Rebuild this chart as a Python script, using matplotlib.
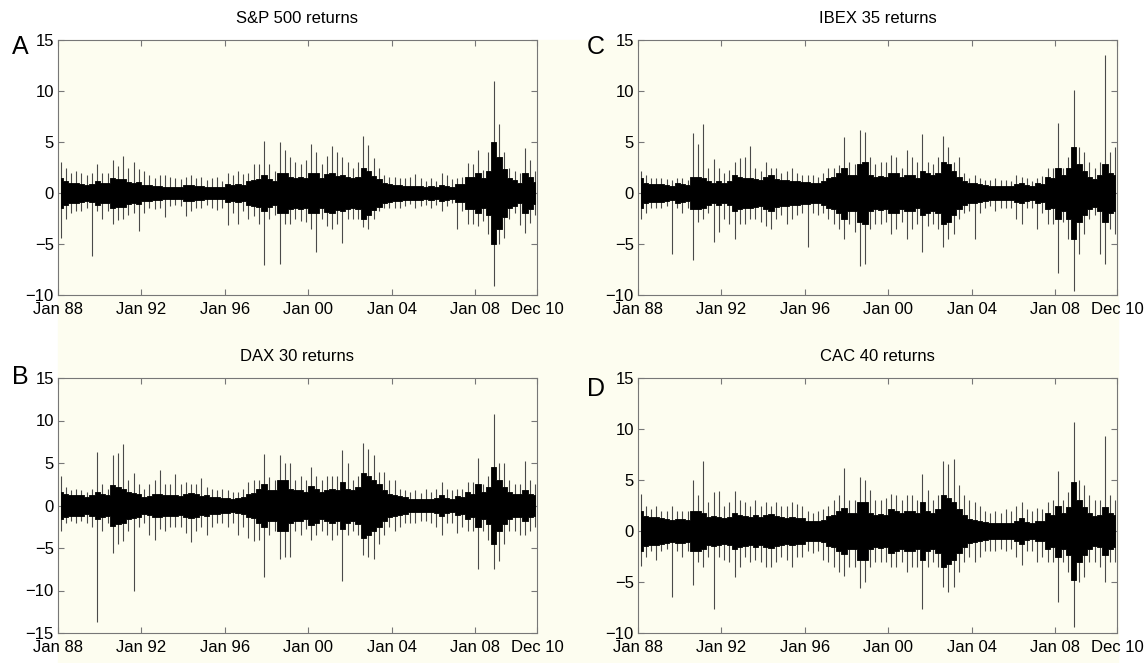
import numpy as np
import matplotlib.pyplot as plt
from matplotlib.patches import Rectangle

plt.rcParams['font.family'] = ['Liberation Sans', 'DejaVu Sans']

# Daily returns, summarised per quarter (Jan 88 .. Dec 10).
# core = half-width of the dense black band, hi / lo = largest spike up / down.
# One row per year, four quarters each.

sp500_core = [1.5, 1.2, 1.0, 1.0,  0.9, 0.8, 0.9, 1.2,  1.0, 1.0, 1.5, 1.4,  1.4, 1.1, 1.0, 1.1,
              0.8, 0.8, 0.7, 0.7,  0.6, 0.6, 0.6, 0.6,  0.8, 0.8, 0.7, 0.7,  0.6, 0.6, 0.6, 0.6,
              0.9, 0.8, 0.9, 0.8,  1.2, 1.3, 1.4, 1.8,  1.4, 1.2, 2.0, 2.0,  1.6, 1.5, 1.6, 1.5,
              2.0, 2.0, 1.5, 1.9,  2.0, 1.7, 1.8, 1.6,  1.5, 1.6, 2.5, 2.2,  1.7, 1.4, 1.0, 0.9,
              0.8, 0.8, 0.7, 0.7,  0.7, 0.7, 0.6, 0.7,  0.6, 0.8, 0.7, 0.6,  0.9, 0.9, 1.6, 1.6,
              2.0, 1.5, 2.2, 5.0,  3.5, 2.4, 1.5, 1.3,  1.0, 2.0, 1.6, 1.1]
sp500_hi = [3.0, 2.5, 2.0, 2.2,  2.0, 1.8, 2.0, 2.8,  2.0, 2.0, 3.2, 2.6,  3.6, 2.5, 3.0, 2.4,
            2.2, 1.8, 1.5, 1.8,  1.8, 1.6, 1.5, 1.4,  1.6, 1.8, 1.5, 1.6,  1.3, 1.5, 1.6, 1.2,
            2.0, 1.8, 2.2, 1.9,  2.0, 2.8, 2.8, 5.1,  2.8, 2.2, 5.0, 4.2,  3.5, 3.0, 2.8, 3.2,
            4.8, 4.0, 2.8, 3.6,  4.6, 4.0, 3.5, 3.0,  2.5, 3.0, 5.6, 4.7,  3.4, 2.5, 1.8, 1.6,
            1.6, 1.5, 1.5, 1.6,  1.9, 1.5, 1.2, 1.5,  1.2, 2.0, 1.8, 1.4,  1.5, 1.6, 2.9, 2.8,
            4.2, 2.3, 4.0, 11.0, 6.8, 4.0, 2.5, 2.2,  2.0, 4.4, 3.2, 2.2]
sp500_lo = [-4.4, -2.5, -2.0, -1.8,  -1.8, -1.5, -6.2, -1.8,  -2.5, -1.8, -3.0, -2.6,  -2.5, -2.2, -2.0, -3.7,
            -2.0, -1.5, -1.6, -1.5,  -2.4, -1.3, -1.2, -1.3,  -2.3, -1.8, -1.5, -1.5,  -1.2, -1.5, -1.7, -1.5,
            -3.1, -2.0, -3.0, -1.8,  -2.5, -2.3, -3.0, -7.1,  -2.5, -2.2, -7.0, -3.0,  -3.0, -2.5, -2.7, -2.8,
            -3.5, -5.8, -2.5, -3.2,  -3.5, -3.0, -4.9, -2.5,  -2.5, -2.5, -3.3, -3.5,  -2.5, -1.8, -1.5, -1.5,
            -1.5, -1.5, -1.3, -1.1,  -1.5, -1.3, -1.2, -1.5,  -1.2, -1.8, -1.3, -1.0,  -3.5, -1.8, -3.0, -3.0,
            -3.2, -2.7, -4.0, -9.1,  -5.0, -4.4, -2.5, -2.0,  -3.1, -3.9, -2.9, -2.2]

ibex_core = [1.5, 1.0, 0.9, 0.9,  0.9, 0.8, 0.7, 1.0,  0.9, 0.8, 1.6, 1.6,  1.5, 1.2, 1.0, 1.2,
             1.0, 1.2, 1.8, 1.6,  1.5, 1.5, 1.4, 1.3,  1.6, 1.8, 1.4, 1.3,  1.3, 1.2, 1.2, 1.1,
             1.1, 1.0, 1.0, 1.2,  1.5, 1.6, 2.0, 2.5,  1.8, 1.8, 2.8, 3.0,  1.8, 1.6, 1.7, 1.6,
             2.0, 2.0, 1.6, 1.8,  1.8, 1.5, 2.2, 2.0,  1.8, 2.0, 3.0, 2.8,  2.2, 1.6, 1.2, 1.0,
             1.0, 0.9, 0.8, 0.7,  0.7, 0.7, 0.7, 0.7,  0.9, 1.0, 0.8, 0.7,  1.0, 0.9, 1.6, 1.5,
             2.5, 1.8, 2.5, 4.5,  2.8, 2.2, 1.6, 1.4,  1.8, 2.8, 2.0, 1.8]
ibex_hi = [2.2, 1.8, 1.5, 1.5,  1.5, 1.4, 1.3, 1.5,  1.5, 1.3, 5.9, 4.8,  6.8, 2.5, 3.3, 2.5,
           2.0, 2.3, 3.0, 3.4,  3.5, 4.6, 2.5, 2.2,  3.0, 2.5, 2.5, 2.0,  2.2, 2.5, 2.0, 1.8,
           1.8, 1.8, 1.6, 2.0,  2.5, 2.5, 2.7, 5.5,  3.0, 2.8, 6.2, 6.0,  3.5, 2.8, 3.0, 3.0,
           3.7, 3.5, 2.5, 4.2,  3.5, 3.0, 5.8, 3.0,  2.8, 3.5, 5.6, 4.5,  3.0, 3.5, 2.0, 1.5,
           1.8, 1.5, 1.3, 1.3,  1.5, 1.3, 1.3, 1.2,  1.8, 1.6, 1.5, 1.2,  1.5, 1.7, 2.5, 2.5,
           6.9, 2.5, 3.5, 10.1, 4.5, 4.0, 3.0, 2.5,  3.0, 13.5, 4.0, 4.5]
ibex_lo = [-2.5, -2.0, -1.5, -1.5,  -1.5, -1.3, -6.0, -1.5,  -2.0, -1.5, -6.6, -2.8,  -2.5, -2.0, -4.8, -3.8,
           -2.5, -3.0, -4.5, -3.0,  -3.0, -2.5, -2.5, -2.8,  -3.2, -3.5, -2.5, -2.2,  -3.0, -2.5, -2.2, -2.0,
           -5.3, -2.0, -2.2, -2.0,  -2.5, -3.0, -3.5, -4.5,  -3.0, -3.8, -7.2, -7.0,  -3.5, -3.0, -3.0, -2.8,
           -4.0, -3.5, -2.8, -4.5,  -3.5, -3.0, -5.8, -3.2,  -3.0, -3.5, -5.3, -4.5,  -4.0, -2.5, -2.0, -1.8,
           -4.5, -2.0, -1.5, -1.3,  -1.8, -1.5, -1.5, -1.5,  -2.5, -3.0, -1.5, -1.5,  -3.5, -2.0, -3.0, -3.0,
           -7.8, -2.8, -4.5, -9.6,  -6.0, -4.0, -2.5, -2.2,  -6.0, -7.0, -3.5, -4.0]

dax_core = [1.6, 1.3, 1.2, 1.2,  1.2, 1.0, 1.2, 1.6,  1.3, 1.2, 2.4, 2.2,  2.0, 1.6, 1.5, 1.3,
            1.0, 1.1, 1.4, 1.3,  1.2, 1.2, 1.2, 1.1,  1.3, 1.5, 1.3, 1.1,  1.2, 1.0, 1.0, 0.9,
            0.9, 0.8, 0.9, 1.0,  1.3, 1.5, 2.0, 2.5,  1.8, 1.8, 3.0, 3.0,  2.0, 1.8, 1.8, 1.6,
            2.3, 2.0, 1.6, 1.8,  2.0, 1.8, 2.8, 2.0,  1.8, 2.2, 3.8, 3.5,  3.0, 2.5, 1.8, 1.3,
            1.2, 1.1, 1.0, 0.8,  0.8, 0.8, 0.8, 0.8,  0.9, 1.2, 0.9, 0.8,  1.1, 1.0, 1.6, 1.4,
            2.5, 1.6, 2.2, 4.5,  3.0, 2.2, 1.6, 1.4,  1.4, 1.8, 1.4, 1.2]
dax_hi = [3.5, 2.2, 1.8, 2.0,  1.8, 1.6, 2.0, 6.3,  2.5, 2.0, 6.0, 6.2,  7.2, 3.0, 3.8, 2.5,
          2.0, 2.5, 3.0, 4.2,  2.5, 2.5, 3.7, 2.5,  2.8, 2.5, 2.5, 3.2,  2.2, 2.0, 1.8, 2.0,
          1.8, 1.6, 1.6, 2.0,  2.8, 3.0, 3.0, 6.1,  3.3, 3.0, 5.9, 5.0,  5.0, 3.0, 3.5, 3.0,
          4.5, 3.5, 3.0, 3.5,  3.5, 3.5, 6.5, 5.0,  3.0, 3.5, 7.3, 6.7,  6.0, 4.0, 4.0, 3.0,
          3.0, 2.0, 1.8, 1.6,  1.8, 1.5, 2.0, 1.6,  2.0, 2.8, 2.0, 1.8,  2.0, 2.0, 2.8, 2.8,
          5.6, 2.5, 3.5, 10.8, 5.0, 5.0, 3.0, 2.5,  2.5, 5.2, 3.0, 2.5]
dax_lo = [-3.0, -2.0, -1.8, -2.0,  -1.8, -2.0, -2.5, -13.7,  -3.0, -2.0, -5.6, -4.5,  -4.2, -3.0, -10.0, -2.5,
          -2.0, -3.5, -4.0, -2.8,  -3.0, -2.5, -2.5, -2.5,  -3.2, -4.3, -3.0, -2.5,  -3.5, -2.5, -2.0, -2.0,
          -2.5, -2.0, -3.5, -2.5,  -3.8, -4.2, -4.0, -8.4,  -3.5, -3.0, -6.3, -6.0,  -6.0, -3.0, -3.5, -2.8,
          -4.0, -3.5, -3.0, -3.5,  -4.0, -3.5, -8.9, -3.5,  -3.0, -3.5, -5.8, -6.0,  -6.3, -4.5, -3.5, -2.5,
          -3.0, -2.5, -2.0, -2.0,  -2.0, -1.8, -1.8, -2.0,  -2.5, -3.5, -2.0, -2.0,  -3.2, -2.5, -3.0, -3.0,
          -7.5, -3.0, -4.0, -7.5,  -6.5, -4.5, -3.0, -3.0,  -3.5, -3.5, -3.0, -2.5]

cac_core = [2.0, 1.5, 1.4, 1.4,  1.3, 1.2, 1.1, 1.2,  1.2, 1.1, 2.0, 2.0,  1.8, 1.4, 1.5, 1.4,
            1.3, 1.4, 1.8, 1.6,  1.5, 1.4, 1.6, 1.4,  1.6, 1.7, 1.5, 1.4,  1.3, 1.4, 1.3, 1.3,
            1.0, 1.0, 1.0, 1.1,  1.5, 1.6, 2.0, 2.3,  1.8, 1.8, 2.8, 2.8,  1.8, 1.6, 1.7, 1.6,
            2.2, 2.0, 1.8, 2.0,  2.0, 1.8, 2.8, 2.0,  1.8, 2.2, 3.5, 3.2,  2.8, 2.2, 1.6, 1.2,
            1.1, 1.0, 0.9, 0.8,  0.8, 0.8, 0.8, 0.8,  1.0, 1.3, 0.9, 0.8,  1.0, 1.0, 1.8, 1.6,
            2.5, 1.8, 2.4, 4.8,  3.0, 2.4, 1.8, 1.5,  1.6, 2.4, 1.8, 1.6]
cac_hi = [3.6, 2.5, 2.2, 2.5,  2.0, 2.0, 2.5, 2.0,  2.0, 2.0, 5.0, 3.5,  6.9, 2.8, 3.8, 3.9,
          2.5, 2.8, 3.9, 3.0,  2.8, 2.5, 3.0, 2.5,  2.8, 2.5, 2.8, 2.5,  2.5, 2.8, 2.6, 2.5,
          2.0, 1.8, 2.0, 2.2,  2.5, 3.0, 3.5, 6.2,  3.0, 3.0, 5.3, 5.0,  4.0, 3.0, 3.0, 3.2,
          3.6, 3.5, 3.0, 3.5,  3.5, 3.0, 5.6, 4.0,  3.0, 3.5, 6.9, 6.6,  7.1, 4.5, 3.5, 3.0,
          2.8, 2.5, 2.0, 1.8,  2.0, 1.8, 2.2, 2.0,  2.5, 2.8, 2.2, 2.0,  2.3, 2.2, 2.8, 3.0,
          5.9, 3.0, 3.8, 10.7, 5.0, 4.5, 3.5, 3.0,  3.0, 9.3, 3.5, 3.0]
cac_lo = [-3.4, -2.5, -2.0, -2.8,  -2.0, -1.8, -6.5, -2.0,  -2.5, -2.0, -5.3, -3.0,  -3.5, -2.5, -7.6, -2.5,
          -2.8, -3.0, -4.5, -3.5,  -2.5, -3.0, -2.8, -3.0,  -3.5, -3.5, -3.0, -2.5,  -2.8, -3.5, -2.5, -2.5,
          -2.0, -2.2, -2.0, -2.8,  -3.0, -3.5, -4.0, -4.4,  -3.5, -3.5, -5.6, -5.0,  -3.5, -3.0, -3.0, -3.0,
          -3.5, -3.5, -3.0, -4.0,  -3.5, -3.5, -7.6, -3.5,  -3.0, -3.5, -5.5, -6.0,  -5.5, -4.0, -3.0, -2.5,
          -3.0, -2.5, -2.0, -2.0,  -2.0, -1.8, -2.0, -1.8,  -2.5, -3.3, -2.0, -2.0,  -3.0, -2.5, -3.0, -3.0,
          -7.0, -3.0, -4.0, -9.4,  -5.0, -4.5, -3.0, -3.0,  -3.5, -5.0, -3.0, -3.0]

tick_years = [1988, 1992, 1996, 2000, 2004, 2008, 2010.95]
tick_labels = ['Jan 88', 'Jan 92', 'Jan 96', 'Jan 00', 'Jan 04', 'Jan 08', 'Dec 10']

CREAM = '#fdfdf0'
FRAME = '#777777'


def draw_panel(ax, core, hi, lo, ylim, title):
    core = np.array(core)
    centers = 1988.125 + 0.25 * np.arange(len(core))
    ax.vlines(centers, lo, hi, color='#4a4a4a', lw=0.8, zorder=2)
    # one polygon for the dense band, no seams between quarters
    ax.fill_between(centers, -core, core, step='mid', color='black', lw=0.6, zorder=3)
    ax.set_xlim(1988, 2010.95)
    ax.set_ylim(*ylim)
    ax.set_yticks(np.arange(ylim[0], ylim[1] + 1, 5))
    ax.set_xticks(tick_years)
    ax.set_xticklabels(tick_labels)
    ax.set_facecolor(CREAM)
    for s in ax.spines.values():
        s.set_color(FRAME)
        s.set_zorder(5)
    ax.tick_params(direction='in', top=True, right=True, length=4, color=FRAME,
                   labelsize=12, pad=3)
    ax.tick_params(axis='x', pad=5)
    pos = ax.get_position()
    ax.figure.text(pos.x0 + pos.width / 2, pos.y1 + 0.033, title, ha='center', va='center', fontsize=12)


fig = plt.figure(figsize=(11.45, 6.63), dpi=100)
fig.patches.append(Rectangle((58 / 1145, 0), 1060 / 1145, 623 / 663, transform=fig.transFigure,
                             color=CREAM, zorder=-1))

w, h = 479 / 1145, 255 / 663
ax_a = fig.add_axes([58 / 1145, 368 / 663, w, h])
ax_c = fig.add_axes([638 / 1145, 368 / 663, w, h])
ax_b = fig.add_axes([58 / 1145, 30 / 663, w, h])
ax_d = fig.add_axes([638 / 1145, 30 / 663, w, h])

draw_panel(ax_a, sp500_core, sp500_hi, sp500_lo, (-10, 15), 'S&P 500 returns')
draw_panel(ax_c, ibex_core, ibex_hi, ibex_lo, (-10, 15), 'IBEX 35 returns')
draw_panel(ax_b, dax_core, dax_hi, dax_lo, (-15, 15), 'DAX 30 returns')
draw_panel(ax_d, cac_core, cac_hi, cac_lo, (-10, 15), 'CAC 40 returns')

fig.text(20 / 1145, 1 - 47 / 663, 'A', ha='center', va='center', fontsize=18)
fig.text(596 / 1145, 1 - 47 / 663, 'C', ha='center', va='center', fontsize=18)
fig.text(20 / 1145, 1 - 377 / 663, 'B', ha='center', va='center', fontsize=18)
fig.text(596 / 1145, 1 - 389 / 663, 'D', ha='center', va='center', fontsize=18)

fig.savefig('out.png', dpi=100)
